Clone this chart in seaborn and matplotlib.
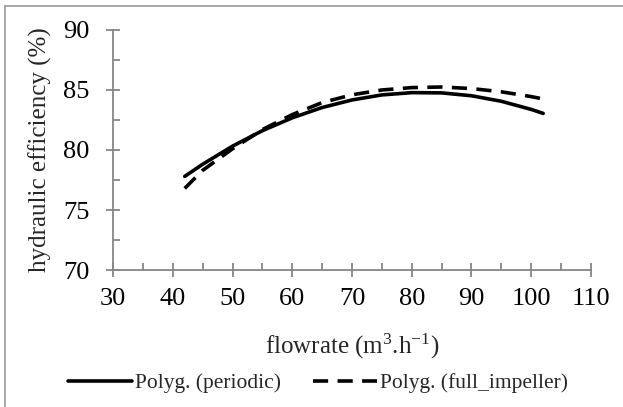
import numpy as np
import pandas as pd
import matplotlib
matplotlib.use("Agg")
import matplotlib.pyplot as plt
import seaborn as sns
from matplotlib.ticker import MultipleLocator
from matplotlib.lines import Line2D

# Flowrate (m3/h) and hydraulic efficiency (%) of the two polynomial trend curves
flowrate = [42, 45, 50, 55, 60, 65, 70, 75, 80, 85, 90, 95, 100, 102]
eff_periodic = [77.80, 78.81, 80.32, 81.61, 82.68, 83.54, 84.17, 84.59,
                84.78, 84.76, 84.52, 84.06, 83.38, 83.05]
eff_full = [76.80, 78.30, 80.10, 81.70, 82.95, 83.95, 84.60, 85.00,
            85.20, 85.25, 85.12, 84.85, 84.45, 84.25]
series_names = ["Polyg. (periodic)", "Polyg. (full_impeller)"]

df = pd.concat([
    pd.DataFrame({"flowrate": flowrate, "eff": eff_periodic, "series": series_names[0]}),
    pd.DataFrame({"flowrate": flowrate, "eff": eff_full, "series": series_names[1]}),
])

sns.set_theme(style="white")
plt.rcParams["font.family"] = ["Liberation Serif", "DejaVu Serif"]
plt.rcParams["mathtext.fontset"] = "custom"
plt.rcParams["mathtext.rm"] = "Liberation Serif"
plt.rcParams["mathtext.it"] = "Liberation Serif:italic"
plt.rcParams["mathtext.bf"] = "Liberation Serif:bold"

fig = plt.figure(figsize=(6.23, 4.07), dpi=100)
ax = fig.add_axes([0.1814, 0.3366, 0.7672, 0.5897])

grey = "#868686"
lw = 2.6
dash = (4.2, 2.6)
sns.lineplot(data=df, x="flowrate", y="eff", style="series",
             dashes={series_names[0]: "", series_names[1]: dash},
             color="black", linewidth=lw, ax=ax, legend=False, sort=False)

ax.set_xlim(30, 110)
ax.set_ylim(70, 90)
ax.xaxis.set_major_locator(MultipleLocator(10))
ax.xaxis.set_minor_locator(MultipleLocator(5))
ax.yaxis.set_major_locator(MultipleLocator(5))
ax.yaxis.set_minor_locator(MultipleLocator(2.5))

for side in ["top", "right"]:
    ax.spines[side].set_visible(False)
for side in ["left", "bottom"]:
    ax.spines[side].set_color(grey)
    ax.spines[side].set_linewidth(1.3)

ax.tick_params(which="major", direction="inout", length=10, width=1.3,
               color=grey, labelsize=19, labelcolor="black")
ax.tick_params(axis="y", which="major", pad=12)
ax.tick_params(axis="x", which="major", pad=8)
ax.tick_params(which="minor", direction="in", length=5, width=1.3, color=grey)
ax.tick_params(axis="x", which="both", bottom=True)
ax.tick_params(axis="y", which="both", left=True)

ax.set_xlabel(r"flowrate (m$^{3}$.h$^{\mathrm{-1}}$)", fontsize=18, labelpad=16)
ax.set_ylabel("hydraulic efficiency (%)", fontsize=18, labelpad=8)

handles = [Line2D([], [], color="black", linewidth=lw),
           Line2D([], [], color="black", linewidth=lw, dashes=dash)]
fig.legend(handles, series_names, loc="center", bbox_to_anchor=(0.51, 0.058),
           ncol=2, frameon=False, fontsize=15.5, handlelength=3.0,
           handletextpad=0.1, columnspacing=1.5)

# chart-area frame edges
fig.add_artist(Line2D([0.008, 0.008], [0.0, 0.985], transform=fig.transFigure,
                      color="#9a9a9a", linewidth=1.2))
fig.add_artist(Line2D([0.008, 1.0], [0.985, 0.985], transform=fig.transFigure,
                      color="#9a9a9a", linewidth=1.2))

fig.savefig("out.png", dpi=100)
